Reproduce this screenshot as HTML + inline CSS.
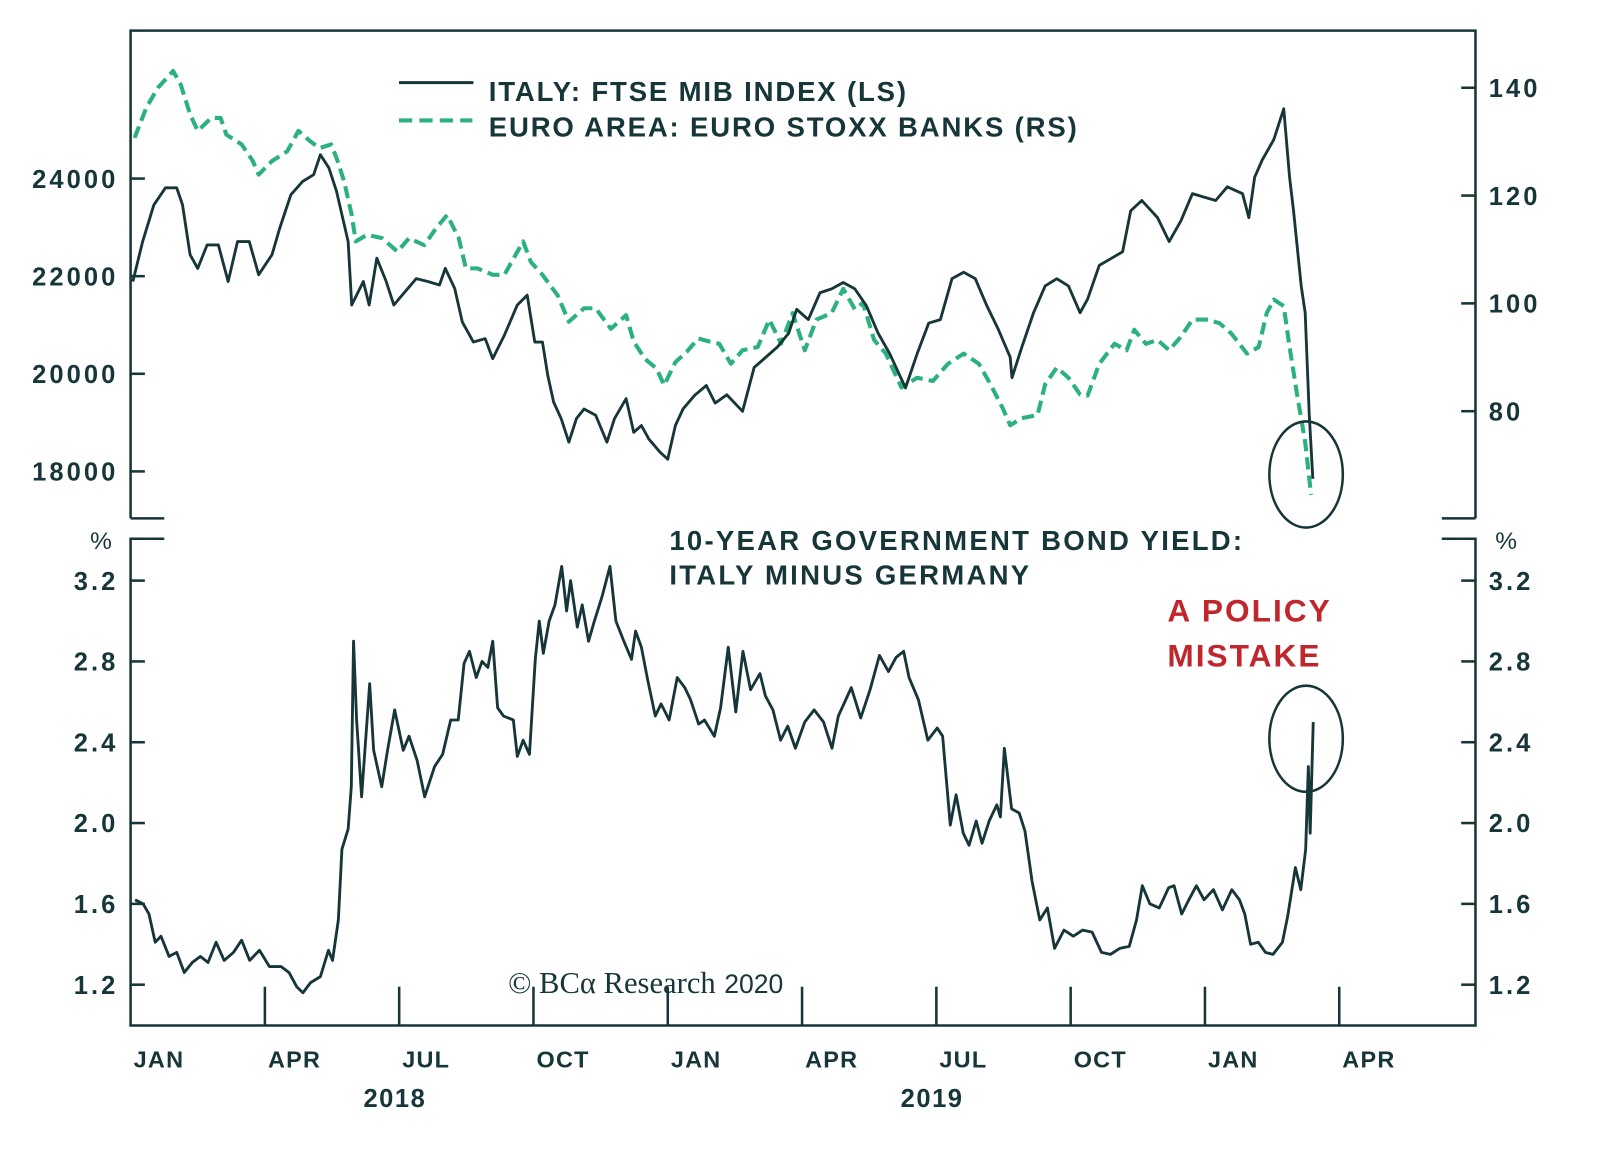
<!DOCTYPE html>
<html><head><meta charset="utf-8"><style>
html,body{margin:0;padding:0;background:#fff;}
svg{display:block;}
text{font-family:"Liberation Sans",sans-serif;fill:#17363a;}
</style></head><body>
<svg id="chart" width="1600" height="1160" viewBox="0 0 1600 1160">
<g transform="translate(1,0) scale(1.0204)">
<g id="frame" stroke="#17363a" stroke-width="2.5" fill="none">
<path d="M127,508 V30 H1445 V508"/>
<path d="M127,508 H160 M1412,508 H1445"/>
<path d="M160,528 H127 V1005 H1445 V528 H1412"/>
</g>
<g id="ticks" stroke="#17363a" stroke-width="2.5"></g>
<g id="labels"></g>
<g id="lines" fill="none" stroke-linejoin="round"></g>
<g>
<line x1="390" y1="81" x2="463" y2="81" stroke="#17363a" stroke-width="3"/>
<line x1="390" y1="118" x2="462" y2="118" stroke="#2bb17e" stroke-width="4" stroke-dasharray="13,7"/>
<text x="478" y="99" font-size="27" font-weight="600" letter-spacing="1.8">ITALY: FTSE MIB INDEX (LS)</text>
<text x="478" y="134" font-size="27" font-weight="600" letter-spacing="1.8">EURO AREA: EURO STOXX BANKS (RS)</text>
</g>
<text x="655" y="539" font-size="27" font-weight="600" letter-spacing="2.2">10-YEAR GOVERNMENT BOND YIELD:</text>
<text x="655" y="573" font-size="27" font-weight="600" letter-spacing="2.2">ITALY MINUS GERMANY</text>
<text x="1143" y="609" font-size="31" font-weight="600" letter-spacing="2" style="fill:#c0272d">A POLICY</text>
<text x="1143" y="653" font-size="31" font-weight="600" letter-spacing="2" style="fill:#c0272d">MISTAKE</text>
<ellipse cx="1279" cy="465" rx="36" ry="52" fill="none" stroke="#17363a" stroke-width="2.5"/>
<ellipse cx="1279" cy="724" rx="36" ry="52" fill="none" stroke="#17363a" stroke-width="2.5"/>
<text x="497" y="973" font-size="30"><tspan style="font-family:'Liberation Serif',serif">© BCα Research</tspan> <tspan font-size="26">2020</tspan></text>
</g>
</svg>
<script>
const ftseM=[0.05,0.27,0.52,0.78,1.03,1.16,1.33,1.50,1.71,1.96,2.18,2.39,2.65,2.86,3.16,3.33,3.58,3.84,4.09,4.24,4.43,4.60,4.86,4.94,5.20,5.33,5.50,5.71,5.88,6.13,6.38,6.64,6.90,7.03,7.24,7.41,7.66,7.92,8.09,8.35,8.64,8.86,9.03,9.20,9.32,9.45,9.62,9.79,9.96,10.13,10.39,10.64,10.81,11.07,11.24,11.41,11.58,11.83,12.00,12.17,12.34,12.60,12.86,13.06,13.32,13.67,13.93,14.19,14.45,14.70,14.88,15.14,15.40,15.66,15.92,16.18,16.44,16.70,16.96,17.31,17.57,17.83,18.09,18.35,18.61,18.87,19.13,19.39,19.65,19.69,19.91,20.17,20.43,20.69,20.95,21.21,21.38,21.64,21.90,22.16,22.34,22.59,22.94,23.20,23.46,23.72,23.98,24.24,24.50,24.84,24.98,25.11,25.28,25.54,25.76,25.89,25.98,26.15,26.24,26.33,26.41];
const ftseV=[21890,22710,23460,23810,23810,23460,22440,22160,22640,22640,21890,22710,22710,22030,22440,22980,23670,23940,24080,24490,24220,23740,22710,21410,21890,21410,22370,21890,21410,21680,21950,21890,21820,22160,21750,21060,20650,20720,20310,20790,21410,21610,20650,20650,19960,19420,19080,18600,19080,19280,19150,18600,19080,19490,18800,18940,18660,18390,18250,18940,19280,19560,19760,19400,19570,19230,20130,20340,20550,20830,21320,21110,21660,21740,21870,21740,21390,20830,20410,19710,20410,21040,21110,21950,22080,21950,21390,20900,20340,19920,20550,21250,21800,21950,21800,21250,21530,22220,22360,22500,23340,23550,23200,22710,23130,23690,23620,23550,23830,23690,23200,24030,24380,24800,25430,24030,23340,21800,21250,19160,17850];
const banksM=[0.09,0.35,0.61,0.95,1.12,1.33,1.50,1.80,2.01,2.14,2.48,2.73,2.86,3.16,3.50,3.75,4.01,4.22,4.48,4.60,4.77,4.94,5.03,5.28,5.62,5.96,6.22,6.56,6.82,7.07,7.33,7.49,7.75,8.09,8.35,8.60,8.77,8.94,9.20,9.54,9.79,10.13,10.39,10.73,11.07,11.24,11.49,11.75,11.92,12.17,12.42,12.68,12.94,13.15,13.41,13.67,14.01,14.27,14.53,14.79,15.06,15.32,15.66,15.92,16.18,16.36,16.61,16.87,17.22,17.57,17.92,18.26,18.61,18.95,19.21,19.48,19.65,19.91,20.26,20.43,20.69,20.95,21.21,21.38,21.64,21.98,22.25,22.42,22.68,22.94,23.20,23.46,23.72,24.07,24.33,24.59,24.94,25.20,25.38,25.54,25.76,25.89,26.07,26.24,26.37];
const banksV=[130.7,136.3,140,143.1,140.6,135.1,132,134.4,134.4,131.3,129.5,126.4,123.9,126.4,128.2,132,130.1,128.8,129.5,127,122.6,116.4,111.5,112.7,112.1,109.6,112.1,110.8,113.9,116.4,112.1,106.5,106.5,105.3,105.3,109,111.5,107.7,105.3,101.5,96.6,99.1,99.1,95.3,97.8,92.9,89.7,87.9,84.8,89.1,91,93.5,92.9,92.5,88.8,91.3,91.9,97,92.5,98.2,91.3,97,98.2,102.7,98.9,100.1,93.2,90.7,84.4,86.2,85.6,88.8,90.7,88.8,85,80.6,77.4,78.7,79.3,85,88.1,86.2,83.1,82.9,88.8,92.5,91.3,95.1,92.5,93.2,91.3,93.8,97,97,96.3,94.4,90.7,91.9,98.2,100.7,99.5,91.9,82.5,74.3,64.5];
const spreadM=[0.10,0.28,0.41,0.55,0.68,0.86,1.03,1.20,1.38,1.56,1.73,1.91,2.09,2.30,2.48,2.66,2.88,3.10,3.36,3.54,3.71,3.85,4.02,4.24,4.42,4.51,4.64,4.72,4.86,4.93,4.98,5.05,5.16,5.34,5.43,5.61,5.74,5.90,6.09,6.22,6.40,6.57,6.79,6.97,7.15,7.32,7.45,7.57,7.72,7.85,7.98,8.09,8.20,8.33,8.55,8.64,8.77,8.91,9.04,9.13,9.22,9.35,9.48,9.63,9.74,9.83,9.98,10.09,10.23,10.36,10.53,10.71,10.84,11.02,11.19,11.28,11.41,11.55,11.72,11.85,12.03,12.21,12.38,12.51,12.69,12.82,13.04,13.18,13.35,13.52,13.68,13.85,14.06,14.18,14.35,14.52,14.68,14.85,15.06,15.27,15.48,15.67,15.81,16.10,16.31,16.52,16.73,16.93,17.10,17.27,17.39,17.60,17.81,18.02,18.14,18.31,18.44,18.60,18.73,18.89,19.02,19.18,19.35,19.43,19.52,19.68,19.85,19.98,20.14,20.31,20.48,20.64,20.85,21.06,21.27,21.48,21.69,21.89,22.10,22.31,22.47,22.60,22.77,22.98,23.19,23.31,23.48,23.64,23.81,23.98,24.19,24.39,24.60,24.77,24.89,25.02,25.19,25.35,25.52,25.73,25.85,26.02,26.14,26.25,26.31,26.35,26.42];
const spreadV=[1.62,1.60,1.55,1.41,1.44,1.34,1.36,1.26,1.31,1.34,1.31,1.41,1.32,1.36,1.42,1.32,1.37,1.29,1.29,1.26,1.19,1.16,1.21,1.24,1.37,1.32,1.52,1.87,1.97,2.18,2.90,2.51,2.13,2.69,2.36,2.18,2.36,2.56,2.36,2.43,2.31,2.13,2.28,2.34,2.51,2.51,2.79,2.85,2.72,2.80,2.77,2.90,2.57,2.53,2.51,2.33,2.41,2.34,2.81,3.00,2.84,3.00,3.08,3.27,3.05,3.20,2.97,3.08,2.90,3.00,3.12,3.27,3.00,2.90,2.81,2.95,2.87,2.71,2.53,2.59,2.51,2.72,2.67,2.61,2.49,2.51,2.43,2.57,2.87,2.55,2.85,2.66,2.74,2.63,2.56,2.41,2.48,2.37,2.50,2.56,2.50,2.37,2.53,2.67,2.52,2.66,2.83,2.75,2.82,2.85,2.72,2.61,2.41,2.47,2.43,1.99,2.14,1.95,1.89,2.01,1.90,2.01,2.09,2.03,2.37,2.07,2.05,1.96,1.71,1.52,1.58,1.38,1.47,1.44,1.47,1.46,1.36,1.35,1.38,1.39,1.52,1.69,1.60,1.58,1.68,1.69,1.55,1.62,1.69,1.62,1.67,1.57,1.67,1.62,1.55,1.40,1.41,1.36,1.35,1.41,1.54,1.78,1.67,1.87,2.28,1.95,2.50];
const leftTicks=[24000,22000,20000,18000];
const rightTicks=[140,120,100,80];
const lowerTicks=[3.2,2.8,2.4,2.0,1.6,1.2];
const monthLabels=["JAN","APR","JUL","OCT","JAN","APR","JUL","OCT","JAN","APR"];
const yearLabels=["2018","2019"];

const NS="http://www.w3.org/2000/svg";
const xS=m=>127+m*43.87;
const yL=v=>175+(24000-v)*0.04783;
const yR=v=>86+(140-v)*5.283;
const yB=v=>569+(3.2-v)*198;

function mk(tag,attrs,parent,txt){const e=document.createElementNS(NS,tag);for(const k in attrs)e.setAttribute(k,attrs[k]);if(txt!==undefined)e.textContent=txt;parent.appendChild(e);return e;}
const tg=document.getElementById('ticks'),lg=document.getElementById('labels'),ln=document.getElementById('lines');
const TL={'font-size':25,'font-weight':'bold','letter-spacing':3};

leftTicks.forEach(v=>{const y=yL(v);
 const t=mk('line',{x1:127,y1:y,x2:141,y2:y},tg);
 
 
 const l=mk('text',Object.assign({x:115,y:y+9,'text-anchor':'end'},TL),lg,String(v));
 
 });
rightTicks.forEach(v=>{const y=yR(v);
 const t=mk('line',{x1:1431,y1:y,x2:1445,y2:y},tg);
 
 
 const l=mk('text',Object.assign({x:1458,y:y+9},TL),lg,String(v));
 
 });
lowerTicks.forEach(v=>{const y=yB(v);
 const t=mk('line',{x1:127,y1:y,x2:141,y2:y},tg);
 
 
 const t2=mk('line',{x1:1431,y1:y,x2:1445,y2:y},tg);
 
 
 const s=v.toFixed(1);
 const l=mk('text',Object.assign({x:115,y:y+9,'text-anchor':'end'},TL),lg,s);
 
 
 const l2=mk('text',Object.assign({x:1458,y:y+9},TL),lg,s);
 
 });
const p1=mk('text',{x:98,y:538,'text-anchor':'middle','font-size':24},lg,'%');


const p2=mk('text',{x:1475,y:538,'text-anchor':'middle','font-size':24},lg,'%');


monthLabels.forEach((s,i)=>{const x=xS(i*3);
 if(i>0){const t=mk('line',{x1:x,y1:967,x2:x,y2:1005},tg);
 
 }
 const l=mk('text',{x:x+3,y:1046,'font-size':23,'font-weight':'bold','letter-spacing':1.2},lg,s);
 
 });
yearLabels.forEach((s,i)=>{const l=mk('text',{x:xS(6+i*12)-35,y:1085,'font-size':25,'font-weight':'bold','letter-spacing':1.5},lg,s);
 
 });

function path(ms,vs,yf){return ms.map((m,i)=>(i?'L':'M')+xS(m).toFixed(1)+','+yf(vs[i]).toFixed(1)).join('');}
const gb=mk('path',{d:path(banksM,banksV,yR),stroke:'#2bb17e','stroke-width':4,'stroke-dasharray':'12,6'},ln);


const gf=mk('path',{d:path(ftseM,ftseV,yL),stroke:'#17363a','stroke-width':2.8},ln);


const gs=mk('path',{d:path(spreadM,spreadV,yB),stroke:'#17363a','stroke-width':2.8},ln);


</script>
</body></html>
